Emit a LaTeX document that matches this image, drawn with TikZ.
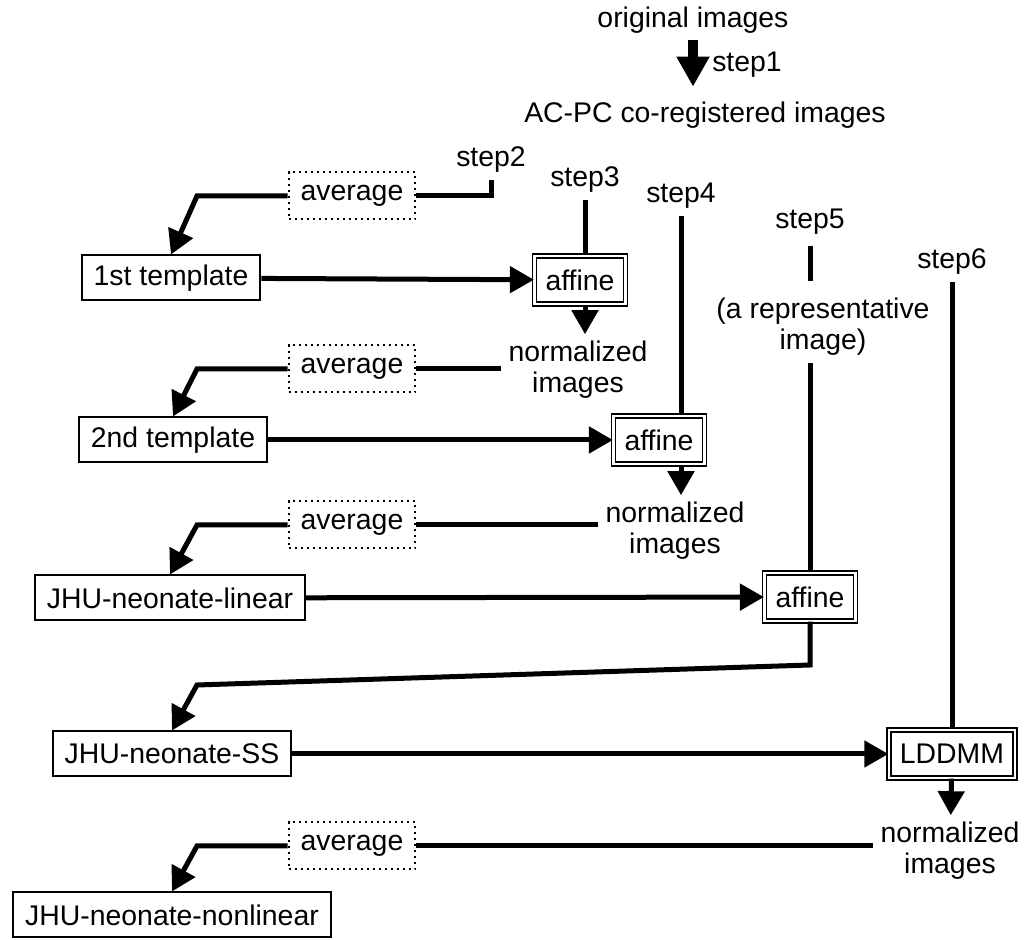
\documentclass[tikz,border=0pt]{standalone}
\usepackage{fontspec}
\setmainfont{Liberation Sans}
\usetikzlibrary{arrows.meta}

\begin{document}
\begin{tikzpicture}[x=0.5pt,y=-0.5pt,
    font=\fontsize{14.2}{15.5}\selectfont,
    box/.style={draw=black,line width=1pt,inner xsep=6pt,minimum height=22.5pt},
    avgbox/.style={draw=black,dotted,line width=1pt,inner xsep=6pt,minimum height=23.5pt},
    regbox/.style={draw=black,double,double distance=1.4pt,line width=0.6pt,inner xsep=5.5pt,minimum height=24pt},
    link/.style={line width=2.5pt},
    arr/.style={line width=2.5pt,-{Triangle[length=12pt,width=13pt]}}]
    \useasboundingbox (0,0) rectangle (1025,940);

    \node (orig) at (693,20) {original images};
    \node (step1) at (747,65) {step1};
    \node (acpc) at (705,115) {AC-PC co-registered images};

    \node (step2) at (491,160) {step2};
    \node (step3) at (585,180) {step3};
    \node (step4) at (681,196) {step4};
    \node (step5) at (810,222) {step5};
    \node (step6) at (952,262) {step6};
    \node[align=center] (rep) at (823,327) {(a representative\\image)};

    \node[avgbox] (avg1) at (352,196) {average};
    \node[avgbox] (avg2) at (352,369) {average};
    \node[avgbox] (avg3) at (352,525) {average};
    \node[avgbox] (avg4) at (352,846) {average};

    \node[box] (tpl1) at (171,278) {1st template};
    \node[box] (tpl2) at (173,440) {2nd template};
    \node[box] (lin) at (170,598) {JHU-neonate-linear};
    \node[box] (ss) at (172,754) {JHU-neonate-SS};
    \node[box] (nonlin) at (172,915) {JHU-neonate-nonlinear};

    \node[regbox] (aff1) at (580,280) {affine};
    \node[regbox] (aff2) at (659,440) {affine};
    \node[regbox] (aff3) at (810,597) {affine};
    \node[regbox] (lddmm) at (952,754) {LDDMM};

    \node[align=center] (norm1) at (578,370) {normalized\\images};
    \node[align=center] (norm2) at (675,531) {normalized\\images};
    \node[align=center] (norm3) at (950,851) {normalized\\images};

    \coordinate (k1) at (197,196);
    \coordinate (k2) at (197,369);
    \coordinate (k3) at (197,525);
    \coordinate (k4) at (197,846);
    \coordinate (k5) at (810,665);
    \coordinate (k6) at (197,685);

    \draw[line width=5pt,-{Triangle[length=15pt,width=15.5pt]},shorten >=4pt]
        (orig.south) -- (orig.south |- acpc.north);

    \draw[link] (step2.south) |- (avg1.east);
    \draw[arr] (avg1.west) -- (k1) -- (tpl1.north);
    \path (tpl1) edge[arr] (aff1);
    \draw[link] (step3.south) -- (step3.south |- aff1.north);
    \draw[arr] (step3 |- aff1.south) -- (step3 |- norm1.north);

    \draw[link] (avg2.east) -- (avg2.east -| norm1.west);
    \draw[arr] (avg2.west) -- (k2) -- (tpl2.north);
    \path (tpl2) edge[arr] (aff2);
    \draw[link] (step4.south) -- (step4.south |- aff2.north);
    \draw[arr] (step4 |- aff2.south) -- (step4 |- norm2.north);

    \draw[link] (avg3.east) -- (avg3.east -| norm2.west);
    \draw[arr] (avg3.west) -- (k3) -- (lin.north);
    \path (lin) edge[arr] (aff3);
    \draw[link,shorten <=2pt,shorten >=5pt] (step5.south) -- (step5.south |- rep.north);
    \draw[link] (aff3.north) -- (aff3.north |- rep.south);

    \draw[arr] (aff3.south) -- (k5) -- (k6) -- (ss.north);
    \path (ss) edge[arr] (lddmm);
    \draw[link] (step6.south) -- (lddmm.north);
    \path (lddmm) edge[arr] (norm3);

    \draw[link] (avg4.east) -- (avg4.east -| norm3.west);
    \draw[arr] (avg4.west) -- (k4) -- (nonlin.north);

 \end{tikzpicture}
\end{document}
